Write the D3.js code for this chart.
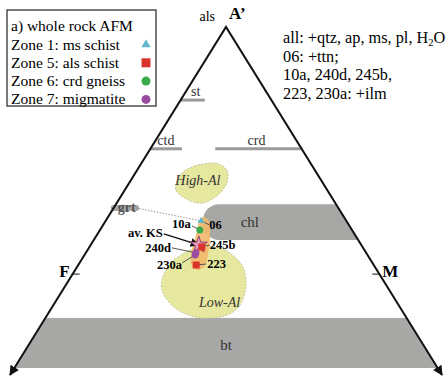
<!DOCTYPE html>
<html><head><meta charset="utf-8">
<script src="https://cdn.jsdelivr.net/npm/d3@7"></script>
<style>body{margin:0;background:#fff}svg{display:block}</style>
</head><body><svg id="c" width="448" height="380"></svg>
<script>
// ternary data in percent: [A', M]  (F = 100 - A - M)
const samples = ["06","10a","av. KS","245b","240d","230a","223"];
const sampleA = [44.3, 41.7, 37.4, 36.8, 35.1, 34.5, 31.6];
const sampleM = [22.1, 23.1, 25.0, 26.0, 25.5, 25.6, 27.3];
const sampleZone = ["z1","z6","ks","z5","z7","z7","z5"];
const legendLabels = ["Zone 1: ms schist","Zone 5: als schist","Zone 6: crd gneiss","Zone 7: migmatite"];
const legendZones = ["z1","z5","z6","z7"];
const phaseLines = ["st","ctd","crd"];
const phaseA = [79, 65, 65];
const phaseM0 = [0, 0, 15];
const phaseM1 = [5.6, 7.3, 35];
const chlA = [38.8, 49.1];
const btA = [2.0, 16.4];
const grtA = 48;
const highAl = [[57.5,10.6],[60.1,12.75],[60.9,17.0],[58.9,20.75],[55.2,22.6],[51.7,22.3],[49.4,20.0],[50.3,16.05],[53.2,11.8]];
const lowAl = [[37.1,26.6],[35.9,31.8],[31.6,37.9],[25.9,41.7],[20.1,43.2],[17.0,41.3],[16.4,35.8],[18.7,29.5],[23.0,24.1],[27.3,21.5],[32.5,21.2],[35.9,23.7]];
const ksField = [[45.4,22.0],[44.0,24.1],[38.8,26.9],[34.5,28.55],[31.3,29.45],[30.2,28.4],[31.9,25.95],[35.9,24.15],[40.2,22.95],[44.0,21.75]];
const noteLines = ["06: +ttn;","10a, 240d, 245b,","223, 230a: +ilm"];

const SERIF = '"Liberation Serif", Tinos, "Times New Roman", Times';
const svg = d3.select("#c").style("font-family", SERIF);
const x = d3.scaleLinear().domain([0,100]).range([10,442]);
const y = d3.scaleLinear().domain([0,100]).range([375,27]);
const px = (a,m) => x(m + a/2);
const py = a => y(a);
const colors = {z1:"#62b7cc", z5:"#d8342c", z6:"#3aa94b", z7:"#9a4c9f", ks:"#e59ac0"};

const defs = svg.append("defs");
defs.append("clipPath").attr("id","tri").append("path")
  .attr("d", `M${px(100,0)},${py(100)}L${px(0,0)},${py(0)}L${px(0,100)},${py(0)}Z`);
defs.append("marker").attr("id","arr").attr("viewBox","0 0 10 10").attr("refX",9).attr("refY",5)
  .attr("markerWidth",5).attr("markerHeight",5).attr("orient","auto-start-reverse").attr("markerUnits","strokeWidth")
  .append("path").attr("d","M0,0L10,5L0,10Z").attr("fill","#111");
defs.append("marker").attr("id","arr2").attr("viewBox","0 0 10 10").attr("refX",9).attr("refY",5)
  .attr("markerWidth",6).attr("markerHeight",6).attr("orient","auto")
  .append("path").attr("d","M0,0L10,5L0,10Z").attr("fill","#111");

const clip = svg.append("g").attr("clip-path","url(#tri)");
clip.append("rect").attr("x",0).attr("width",448).attr("y",py(btA[1])).attr("height",py(btA[0])-py(btA[1]))
  .attr("fill","#a8a8a6");
clip.append("rect").attr("x",px(chlA[0],25.3)).attr("y",py(chlA[1])).attr("width",300)
  .attr("height",py(chlA[0])-py(chlA[1])).attr("rx",16).attr("fill","#a7a7a5");

// fields
const line = d3.line().x(d=>px(d[0],d[1])).y(d=>py(d[0])).curve(d3.curveCardinalClosed.tension(0.1));
[highAl, lowAl].forEach(f=>{
  svg.append("path").attr("d",line(f)).attr("fill","#e6e8a0").attr("stroke","#b9b98f")
    .attr("stroke-width",0.8).attr("stroke-dasharray","2,1.5");
});
svg.append("path").attr("d",line(ksField)).attr("fill","#f3b86a").attr("opacity",0.9);

// phase lines
phaseLines.forEach((p,i)=>{
  svg.append("line").attr("x1",px(phaseA[i],phaseM0[i])).attr("x2",px(phaseA[i],phaseM1[i]))
    .attr("y1",py(phaseA[i])).attr("y2",py(phaseA[i])).attr("stroke","#9a9a9a").attr("stroke-width",3);
});
svg.append("text").attr("x",px(phaseA[0],2.4)).attr("y",py(phaseA[0])-4).attr("font-size",14).attr("fill","#333").text("st");
svg.append("text").attr("x",px(phaseA[1],1.6)).attr("y",py(phaseA[1])-4).attr("font-size",14).attr("fill","#333").text("ctd");
svg.append("text").attr("x",px(phaseA[2],22.5)).attr("y",py(phaseA[2])-4).attr("font-size",14).attr("fill","#333").text("crd");

// grt
svg.append("line").attr("x1",px(grtA,0)).attr("x2",px(grtA,5.2)).attr("y1",py(grtA)).attr("y2",py(grtA))
  .attr("stroke","#a8a8a8").attr("stroke-width",6).attr("stroke-linecap","round");
svg.append("line").attr("x1",px(grtA,5.2)).attr("y1",py(grtA)).attr("x2",px(sampleA[0],sampleM[0])).attr("y2",py(sampleA[0]))
  .attr("stroke","#8a8a8a").attr("stroke-width",0.9).attr("stroke-dasharray","1.5,1.5");
svg.append("text").attr("x",px(grtA,0)+4).attr("y",py(grtA)+4).attr("font-size",14).attr("font-weight","bold").attr("fill","#555").text("grt");

// triangle
svg.append("path").attr("d",`M${px(0,0)},${py(0)}L${px(100,0)},${py(100)}L${px(0,100)},${py(0)}`)
  .attr("fill","none").attr("stroke","#111").attr("stroke-width",2)
  .attr("marker-start","url(#arr)").attr("marker-end","url(#arr)");

// band / field labels
svg.append("text").attr("x",px(chlA[0],34)).attr("y",py(44)+5).attr("font-size",15).attr("fill","#333").text("chl");
svg.append("text").attr("x",x(50)).attr("y",py(8.5)+5).attr("text-anchor","middle").attr("font-size",15).attr("fill","#333").text("bt");
svg.append("text").attr("x",px(56,15.5)).attr("y",py(56)+5).attr("text-anchor","middle").attr("font-size",14).attr("font-style","italic").attr("fill","#333").text("High-Al");
svg.append("text").attr("x",px(21,38)).attr("y",py(21)+5).attr("text-anchor","middle").attr("font-size",14).attr("font-style","italic").attr("fill","#333").text("Low-Al");

// apex / corner labels
svg.append("text").attr("x",px(100,0)-11).attr("y",py(100)-6).attr("text-anchor","end").attr("font-size",14).text("als");
svg.append("text").attr("x",px(100,0)+3).attr("y",py(100)-8).attr("font-size",17).attr("font-weight","bold").text("A’");
const aFM = 29;
svg.append("line").attr("x1",px(aFM,0)).attr("x2",px(aFM,0)+7).attr("y1",py(aFM)).attr("y2",py(aFM)).attr("stroke","#111");
svg.append("text").attr("x",px(aFM,0)-3).attr("y",py(aFM)+3).attr("text-anchor","end").attr("font-size",17).attr("font-weight","bold").text("F");
svg.append("line").attr("x1",px(aFM,100-aFM)-7).attr("x2",px(aFM,100-aFM)).attr("y1",py(aFM)).attr("y2",py(aFM)).attr("stroke","#111");
svg.append("text").attr("x",px(aFM,100-aFM)+3).attr("y",py(aFM)+3).attr("font-size",17).attr("font-weight","bold").text("M");

function marker(g, zone, cx, cy, s) {
  if (zone==="z1") g.append("path").attr("d",d3.symbol(d3.symbolTriangle, s*s*0.45)()).attr("transform",`translate(${cx},${cy})`).attr("fill",colors.z1);
  else if (zone==="z5") g.append("rect").attr("x",cx-s/2).attr("y",cy-s/2).attr("width",s).attr("height",s).attr("fill",colors.z5);
  else if (zone==="ks") g.append("path").attr("d",d3.symbol(d3.symbolStar, s*s*0.9)()).attr("transform",`translate(${cx},${cy})`).attr("fill",colors.ks).attr("stroke","#7a2a5a").attr("stroke-width",0.8);
  else g.append("circle").attr("cx",cx).attr("cy",cy).attr("r",s/2).attr("fill",colors[zone]);
}

const lab = {
  "06":   {lx:8, ly:4, tx:8, ty:8, anchor:"start", arrow:false},
  "10a":  {lx:-8, ly:-4, tx:-9, ty:-2, anchor:"end", arrow:false},
  "av. KS":{lx:-35, ly:-11, tx:-36, ty:-8, anchor:"end", arrow:true},
  "245b": {lx:8, ly:-2, tx:8, ty:2, anchor:"start", arrow:false},
  "240d": {lx:-24, ly:-5, tx:-25, ty:-1, anchor:"end", arrow:false},
  "230a": {lx:-13, ly:8, tx:-13, ty:14, anchor:"end", arrow:false},
  "223":  {lx:10, ly:-1, tx:11, ty:3, anchor:"start", arrow:false}
};
const gp = svg.append("g");
samples.forEach((s,i)=>{
  const cx = px(sampleA[i],sampleM[i]), cy = py(sampleA[i]);
  const L = lab[s];
  const ln = gp.append("line").attr("x1",cx+L.lx).attr("y1",cy+L.ly).attr("x2",cx).attr("y2",cy)
    .attr("stroke", L.arrow ? "#111" : "#555").attr("stroke-width", L.arrow ? 1.5 : 1);
  if (L.arrow) ln.attr("marker-end","url(#arr2)");
});
samples.forEach((s,i)=>{
  const cx = px(sampleA[i],sampleM[i]), cy = py(sampleA[i]);
  marker(gp, sampleZone[i], cx, cy, sampleZone[i]==="ks"?10:7);
  const L = lab[s];
  gp.append("text").attr("x",cx+L.tx).attr("y",cy+L.ty).attr("text-anchor",L.anchor)
    .attr("font-size",12.5).attr("font-weight","bold").text(s);
});

// legend
const lg = svg.append("g");
lg.append("rect").attr("x",7).attr("y",10).attr("width",149).attr("height",96).attr("fill","#fff").attr("stroke","#222").attr("stroke-width",1.2);
lg.append("text").attr("x",11).attr("y",31).attr("font-size",15.5).text("a) whole rock AFM");
legendLabels.forEach((t,i)=>{
  const yy = 49.5 + i*18.3;
  lg.append("text").attr("x",11).attr("y",yy).attr("font-size",15.5).text(t);
  marker(lg, legendZones[i], 146, yy-5, 9);
});

// note
const nt = svg.append("text").attr("x",283).attr("y",43).attr("font-size",16.3);
nt.append("tspan").text("all: +qtz, ap, ms, pl, H");
nt.append("tspan").attr("font-size",10.5).attr("dy",3).text("2");
nt.append("tspan").attr("dy",-3).text("O");
noteLines.forEach((t,i)=>{
  svg.append("text").attr("x",283).attr("y",61.5+i*18.5).attr("font-size",16.3).text(t);
});
</script></body></html>
